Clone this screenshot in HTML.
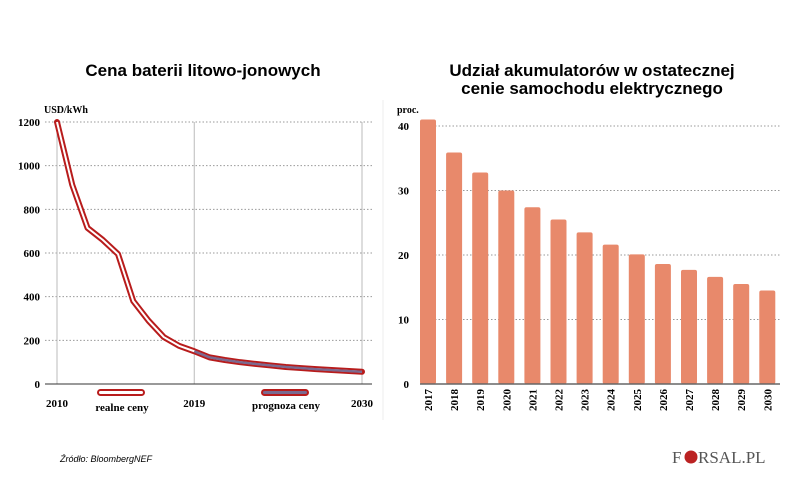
<!DOCTYPE html>
<html><head><meta charset="utf-8"><style>
body{margin:0;background:#fff;width:805px;height:497px;overflow:hidden;font-family:"Liberation Serif",serif}
svg text{font-family:"Liberation Serif",serif}
</style></head><body>
<svg id="c" width="805" height="497">
<text x="203" y="76" text-anchor="middle" font-weight="bold" font-size="17" style="font-family:'Liberation Sans',sans-serif">Cena baterii litowo-jonowych</text>
<text x="592" y="76" text-anchor="middle" font-weight="bold" font-size="17" style="font-family:'Liberation Sans',sans-serif">Udział akumulatorów w ostatecznej</text>
<text x="592" y="94" text-anchor="middle" font-weight="bold" font-size="17" style="font-family:'Liberation Sans',sans-serif">cenie samochodu elektrycznego</text>
<line x1="383" y1="100" x2="383" y2="420" stroke="#eee"/>
<text x="44" y="113" font-size="10" font-weight="bold">USD/kWh</text>
<text x="397" y="113" font-size="10" font-weight="bold">proc.</text>
<g id="L"></g><g id="R"></g>
<text x="60" y="462" font-size="9" font-style="italic" style="font-family:'Liberation Sans',sans-serif">Źródło: BloombergNEF</text>
<g>
<text x="672" y="463" font-size="17" fill="#555">F</text>
<circle cx="691" cy="457" r="6.5" fill="#b22"/>
<text x="698" y="463" font-size="17" fill="#555">RSAL.PL</text>
</g>
</svg>
<script>
const lineYears=[2010,2011,2012,2013,2014,2015,2016,2017,2018,2019,2020,2021,2022,2023,2024,2025,2026,2027,2028,2029,2030];
const lineVals=[1200,912,715,660,595,380,290,215,175,150,122,110,100,92,85,78,73,68,64,60,56];
const leftTicks=[0,200,400,600,800,1000,1200];
const xTickYears=[2010,2019,2030];
const barYears=["2017","2018","2019","2020","2021","2022","2023","2024","2025","2026","2027","2028","2029","2030"];
const barVals=[41,35.9,32.8,30,27.4,25.5,23.5,21.6,20.1,18.6,17.7,16.6,15.5,14.5];
const rightTicks=[0,10,20,30,40];
const NS="http://www.w3.org/2000/svg";
function mk(t,a,p,txt){const e=document.createElementNS(NS,t);for(const k in a)e.setAttribute(k,a[k]);if(txt!==undefined)e.textContent=txt;p.appendChild(e);return e;}
const L=document.getElementById('L'),R=document.getElementById('R');
const lx=y=>57+(y-2010)*(305/20), ly=v=>384-v*(262/1200);
leftTicks.forEach(t=>{
 if(t>0){const g=mk('line',{x1:45,x2:372,y1:ly(t),y2:ly(t),stroke:'#999','stroke-dasharray':'1.5,2'},L);
 
 }
 const tx=mk('text',{x:40,y:ly(t)+4,'text-anchor':'end','font-size':11,'font-weight':'bold'},L,t);
 
 
});
xTickYears.forEach(y=>{
 const g=mk('line',{x1:lx(y),x2:lx(y),y1:ly(1200),y2:384,stroke:'#bbb','stroke-width':1},L);
 
 
 const tx=mk('text',{x:lx(y),y:407,'text-anchor':'middle','font-size':11,'font-weight':'bold'},L,y);
 
 
});
const ax=mk('line',{x1:45,x2:372,y1:384,y2:384,stroke:'#333','stroke-width':1},L);


const pts=lineYears.map((y,i)=>lx(y)+','+ly(lineVals[i])).join(' ');
const fi=lineYears.indexOf(2019);
const fpts=lineYears.slice(fi).map((y,i)=>lx(y)+','+ly(lineVals[fi+i])).join(' ');
const o=mk('polyline',{points:pts,fill:'none',stroke:'#b81c1c','stroke-width':6,'stroke-linejoin':'round','stroke-linecap':'round'},L);


const w=mk('polyline',{points:pts,fill:'none',stroke:'#fff','stroke-width':2,'stroke-linejoin':'round'},L);


const f=mk('polyline',{points:fpts,fill:'none',stroke:'#7a6a90','stroke-width':2.4,'stroke-linejoin':'round'},L);


const l1=mk('rect',{x:98,y:390,width:46,height:5,rx:2.5,fill:'#fff',stroke:'#b81c1c','stroke-width':2},L);


const t1=mk('text',{x:122,y:411,'text-anchor':'middle','font-size':11,'font-weight':'bold'},L,'realne ceny');


const l2=mk('rect',{x:262,y:390,width:46,height:5,rx:2.5,fill:'#7a6a90',stroke:'#b81c1c','stroke-width':2},L);


const t2=mk('text',{x:286,y:409,'text-anchor':'middle','font-size':11,'font-weight':'bold'},L,'prognoza ceny');


const bx=i=>428+i*26.1, by=v=>384-v*6.45;
rightTicks.forEach(t=>{
 if(t>0){const g=mk('line',{x1:435,x2:780,y1:by(t),y2:by(t),stroke:'#999','stroke-dasharray':'1.5,2'},R);
 
 }
 const tx=mk('text',{x:409,y:by(t)+4,'text-anchor':'end','font-size':11,'font-weight':'bold'},R,t);
 
 
});
barVals.forEach((v,i)=>{
 const b=mk('rect',{x:bx(i)-8,y:by(v),width:16,height:by(0)-by(v),rx:2,fill:'#e8896b'},R);
 
 
 const tx=mk('text',{x:0,y:0,'text-anchor':'end','font-size':11,'font-weight':'bold',transform:`translate(${bx(i)+4},${389}) rotate(-90)`},R,barYears[i]);
 
 
});
const ra=mk('line',{x1:420,x2:780,y1:384,y2:384,stroke:'#666','stroke-width':1.5},R);


</script>
</body></html>
